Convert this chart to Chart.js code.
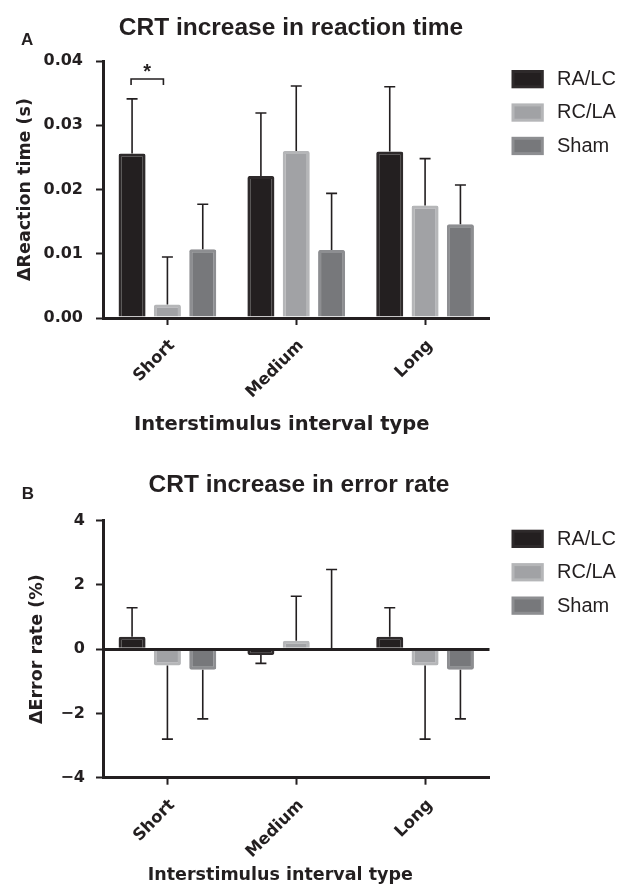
<!DOCTYPE html>
<html><head><meta charset="utf-8">
<script src="https://cdn.jsdelivr.net/npm/chart.js@4"></script>
<style>body{margin:0;background:#fff;} canvas{display:block;}</style>
</head><body>
<canvas id="a" width="622" height="447"></canvas>
<canvas id="b" width="622" height="447"></canvas>
<script>
// ---- data ----
const categories = ['Short', 'Medium', 'Long'];
const seriesNames = ['RA/LC', 'RC/LA', 'Sham'];
// Panel A: CRT increase in reaction time (s), mean and error (SEM)
const rtRALC = [0.0256, 0.0221, 0.0259];
const rtRCLA = [0.0021, 0.0260, 0.0175];
const rtSham = [0.0107, 0.0106, 0.0146];
const rtErrRALC = [0.0085, 0.0098, 0.0101];
const rtErrRCLA = [0.0074, 0.0101, 0.0073];
const rtErrSham = [0.0070, 0.0088, 0.0061];
// Panel B: CRT increase in error rate (%)
const erRALC = [0.39, -0.18, 0.39];
const erRCLA = [-0.51, 0.26, -0.51];
const erSham = [-0.64, 0.00, -0.64];
const erErrRALC = [0.90, 0.26, 0.90];
const erErrRCLA = [2.29, 1.39, 2.29];
const erErrSham = [1.53, 2.48, 1.53];
// tick labels
const rtTickLabels = ['0.00', '0.01', '0.02', '0.03', '0.04'];
const erTickLabels = ['\u22124', '\u22122', '0', '2', '4'];
// significance annotation (panel A, Short: RA/LC vs RC/LA)
const sigLabel = '*';
const sigLevel = 0.0372;

// ---- styling ----
const DARK = '#231f20';
const fills = ['#231f20', '#a1a2a5', '#77787b'];
const borders = ['#2e2a2b', '#b5b6b8', '#8d8e91'];
Chart.defaults.font.family = "'DejaVu Sans', sans-serif";
Chart.defaults.color = DARK;

function datasets(vals, errs) {
  return seriesNames.map((n, i) => ({
    label: n, data: vals[i], errors: errs[i],
    backgroundColor: fills[i], borderColor: borders[i], borderWidth: 3,
    borderRadius: 2, categoryPercentage: 0.823, barPercentage: 0.765
  }));
}

const decor = {
  id: 'decor',
  afterDatasetsDraw(chart, args, o) {
    const ctx = chart.ctx, ys = chart.scales.y, ca = chart.chartArea;
    ctx.save();
    // error bars
    ctx.strokeStyle = DARK; ctx.lineWidth = 1.6;
    chart.data.datasets.forEach((ds, di) => {
      chart.getDatasetMeta(di).data.forEach((bar, i) => {
        const v = ds.data[i], e = ds.errors[i];
        const end = v >= 0 ? v + e : v - e;
        const y0 = ys.getPixelForValue(v), y1 = ys.getPixelForValue(end);
        ctx.beginPath();
        ctx.moveTo(bar.x, y0); ctx.lineTo(bar.x, y1);
        ctx.moveTo(bar.x - 5.5, y1); ctx.lineTo(bar.x + 5.5, y1);
        ctx.stroke();
      });
    });
    // significance bracket
    if (o.sig) {
      const b0 = chart.getDatasetMeta(0).data[0], b1 = chart.getDatasetMeta(1).data[0];
      const yt = ys.getPixelForValue(sigLevel);
      ctx.lineWidth = 1.6;
      ctx.beginPath();
      ctx.moveTo(b0.x - 1, yt + 6); ctx.lineTo(b0.x - 1, yt);
      ctx.lineTo(b1.x - 4, yt); ctx.lineTo(b1.x - 4, yt + 6);
      ctx.stroke();
      ctx.fillStyle = DARK; ctx.font = "bold 20px 'Liberation Sans'";
      ctx.textAlign = 'center'; ctx.textBaseline = 'alphabetic';
      ctx.fillText(sigLabel, (b0.x + b1.x - 5) / 2, yt - 1);
    }
    // legend
    chart.data.datasets.forEach((ds, i) => {
      const bx = ca.right + 22, by = ca.top + 9 + i * 33.4;
      ctx.fillStyle = ds.borderColor; ctx.fillRect(bx, by, 32.3, 18.3);
      ctx.fillStyle = ds.backgroundColor; ctx.fillRect(bx + 3, by + 3, 26.3, 12.3);
      ctx.fillStyle = DARK; ctx.font = "20px 'Liberation Sans'";
      ctx.textAlign = 'left'; ctx.textBaseline = 'middle';
      ctx.fillText(ds.label, ca.right + 67.5, by + 9.5);
    });
    // titles
    ctx.fillStyle = DARK; ctx.textBaseline = 'alphabetic';
    ctx.font = "bold 24.5px 'Liberation Sans'"; ctx.textAlign = 'center';
    ctx.fillText(o.title, o.titleX, o.titleY);
    ctx.font = "bold 17px 'Liberation Sans'"; ctx.textAlign = 'left';
    ctx.fillText(o.letter, o.letterX, o.letterY);
    ctx.font = 'bold ' + o.xTitleSize + "px 'DejaVu Sans'"; ctx.textAlign = 'center';
    ctx.textBaseline = 'middle';
    ctx.fillText(o.xTitle, o.xTitleX, o.xTitleY);
    ctx.restore();
  }
};

function makeChart(id, p) {
  return new Chart(document.getElementById(id), {
    type: 'bar',
    data: { labels: categories, datasets: p.datasets },
    plugins: [decor],
    options: {
      responsive: false, animation: false,
      layout: { padding: { left: p.padLeft, top: p.padTop, right: 132.5, bottom: 0 } },
      plugins: { legend: { display: false }, tooltip: { enabled: false }, decor: p.decor },
      scales: {
        x: {
          afterFit: s => { s.height = p.xHeight; },
          grid: { offset: false, drawOnChartArea: false, drawTicks: true, tickLength: 7,
                  tickColor: DARK, tickWidth: 2 },
          border: { display: true, color: DARK, width: 3 },
          ticks: { minRotation: 45, maxRotation: 45, padding: 11, labelOffset: 5,
                   font: { size: 16.5, weight: 'bold' }, color: DARK }
        },
        y: {
          min: p.min, max: p.max,
          afterFit: s => { s.width = 103 - p.padLeft; },
          grid: { drawOnChartArea: p.zeroLine, drawTicks: true, tickLength: 7,
                  color: c => (c.tick && c.tick.value === 0) ? DARK : 'rgba(0,0,0,0)',
                  lineWidth: 3, tickColor: DARK, tickWidth: 2 },
          border: { display: true, color: DARK, width: 3 },
          ticks: { stepSize: p.step, padding: p.tickPad, color: DARK,
                   font: { size: 16, weight: 'bold' },
                   callback: (v, i) => p.tickLabels[i] },
          title: { display: true, text: p.yTitle, color: DARK,
                   font: { size: 17.5, weight: 'bold' }, padding: { top: 4, bottom: 4 } }
        }
      }
    }
  });
}

makeChart('a', {
  datasets: datasets([rtRALC, rtRCLA, rtSham], [rtErrRALC, rtErrRCLA, rtErrSham]),
  padLeft: 10.5, padTop: 61, xHeight: 129, min: 0, max: 0.04, step: 0.01,
  tickPad: 13, tickLabels: rtTickLabels, zeroLine: false,
  yTitle: '\u0394Reaction time (s)',
  decor: { sig: true, title: 'CRT increase in reaction time', titleX: 291, titleY: 35,
           letter: 'A', letterX: 21, letterY: 44.6,
           xTitle: 'Interstimulus interval type', xTitleSize: 19.5, xTitleX: 281.7, xTitleY: 424.5 }
});

makeChart('b', {
  datasets: datasets([erRALC, erRCLA, erSham], [erErrRALC, erErrRCLA, erErrSham]),
  padLeft: 23, padTop: 73.7, xHeight: 116.3, min: -4, max: 4, step: 2,
  tickPad: 11, tickLabels: erTickLabels, zeroLine: true,
  yTitle: '\u0394Error rate (%)',
  decor: { sig: false, title: 'CRT increase in error rate', titleX: 299, titleY: 44.7,
           letter: 'B', letterX: 21.7, letterY: 52.3,
           xTitle: 'Interstimulus interval type', xTitleSize: 17.5, xTitleX: 280.3, xTitleY: 428.5 }
});
</script>
</body></html>
